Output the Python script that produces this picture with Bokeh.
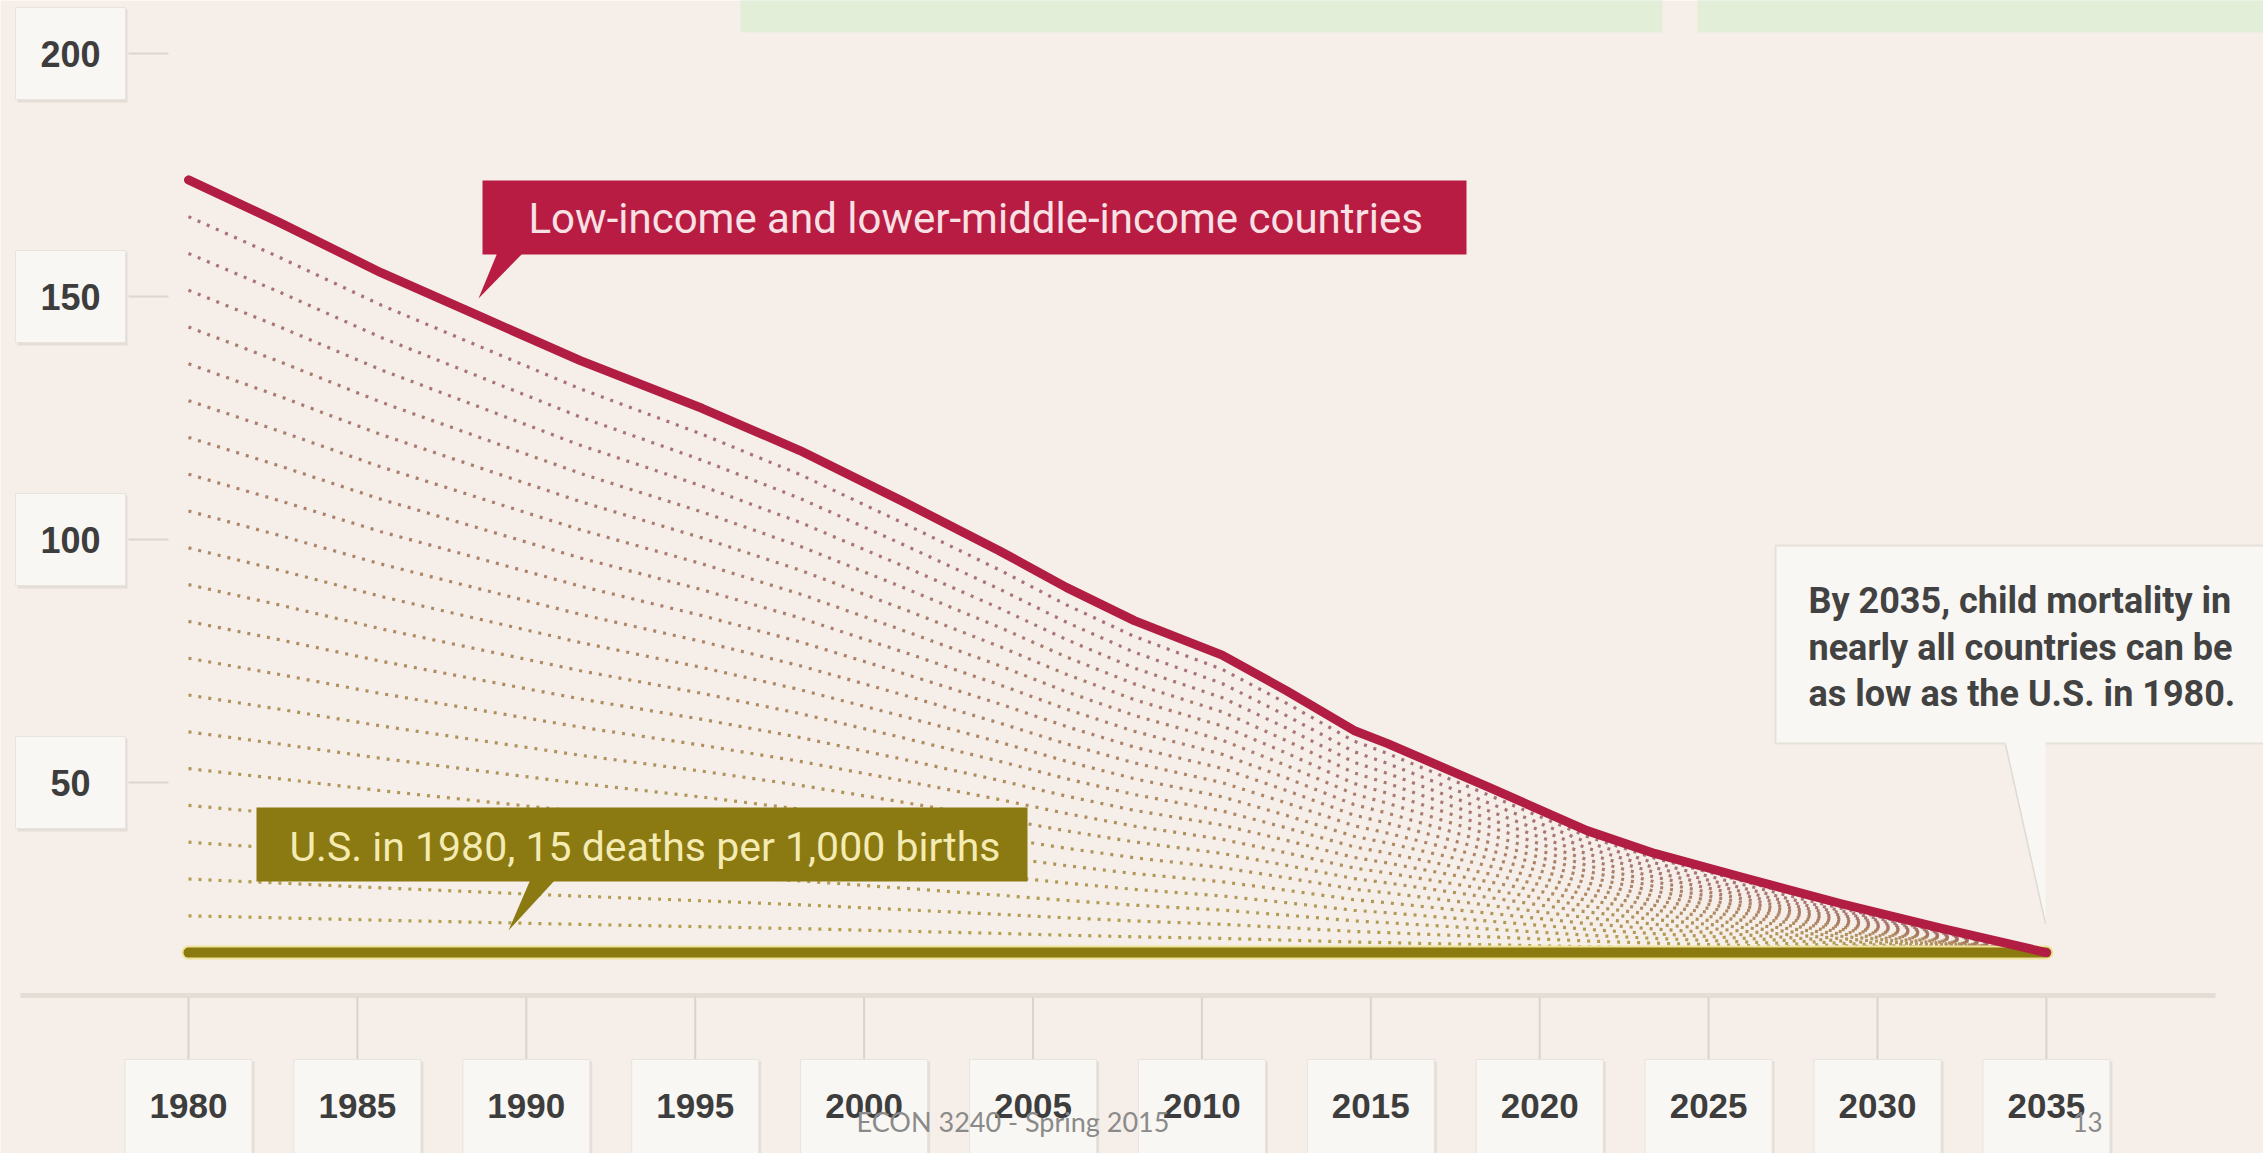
import numpy as np
from bokeh.plotting import figure
from bokeh.models import Range1d
from bokeh.core.properties import value
from bokeh.embed import file_html
from bokeh.resources import INLINE

# ---------------- data ----------------
low_years = [1980, 1982.7, 1985.7, 1988.7, 1991.6, 1995.2, 1998.1, 2001.1, 2004.0,
             2006.0, 2008.0, 2010.6, 2012.5, 2014.5, 2015.5, 2018.5, 2021.4,
             2023.4, 2026.0, 2028.9, 2031.9, 2035]
low_deaths = [174, 165.2, 154.9, 145.7, 136.8, 127.0, 118.3, 108.0, 97.7,
              90.1, 83.3, 76.2, 68.9, 60.7, 58.0, 49.0, 40.1,
              35.4, 30.5, 25.1, 20.0, 15]
us_years = [1980, 2035]
us_deaths = [15, 15]
us_level = 15
y_ticks = [50, 100, 150, 200]
x_ticks = [1980, 1985, 1990, 1995, 2000, 2005, 2010, 2015, 2020, 2025, 2030, 2035]
low_label = "Low-income and lower-middle-income countries"
us_label = "U.S. in 1980, 15 deaths per 1,000 births"
note_lines = ["By 2035, child mortality in", "nearly all countries can be", "as low as the U.S. in 1980."]
footer = "ECON 3240 - Spring 2015"
page_no = "13"

# ---------------- layout helpers (pixel -> data) ----------------
W, H = 2263, 1153
PX_YR, X0PX = 33.78, 188.0
PX_UNIT, Y0PX = 4.86, 1025.0
def X(px):
    return 1980 + (px - X0PX) / PX_YR
def Y(py):
    return (Y0PX - py) / PX_UNIT
def DX(px):
    return px / PX_YR
def DY(py):
    return py / PX_UNIT

BG = "#f6efe9"
p = figure(width=W, height=H, output_backend="svg", toolbar_location=None,
           x_range=Range1d(X(0), X(W)), y_range=Range1d(Y(H), Y(0)),
           x_axis_location=None, y_axis_location=None,
           min_border=0, min_border_left=0, min_border_right=0,
           min_border_top=0, min_border_bottom=0)
p.background_fill_color = BG
p.border_fill_color = BG
p.outline_line_color = None
p.grid.visible = False

# green boxes at top (slide decoration)
p.quad(left=[X(740), X(1697)], right=[X(1662), X(2270)], top=[Y(-5)] * 2, bottom=[Y(32)] * 2,
       fill_color="#e2eed8", line_color=None)

# y tick boxes + ticks + labels
for v in y_ticks:
    p.quad(left=X(17), right=X(127), top=v + DY(44), bottom=v - DY(49), fill_color="#e4ded7", line_color=None)
    p.quad(left=X(15), right=X(125), top=v + DY(46), bottom=v - DY(46), fill_color="#f9f7f3",
           line_color="#e8e3dc", line_width=1)
p.segment(x0=[X(128)] * len(y_ticks), x1=[X(168)] * len(y_ticks), y0=y_ticks, y1=y_ticks,
          line_color="#dcd6cf", line_width=2)
p.text(x=[X(70)] * len(y_ticks), y=y_ticks, text=[str(v) for v in y_ticks],
       text_font=value("Liberation Sans"), text_font_style="bold", text_font_size="36px",
       text_color="#3d3d3d", text_align="center", text_baseline="middle")

# x axis line, ticks, boxes, labels
p.segment(x0=[X(20)], x1=[X(2215)], y0=[Y(995)], y1=[Y(995)], line_color="#e3ddd6", line_width=5)
p.segment(x0=x_ticks, x1=x_ticks, y0=[Y(997)] * len(x_ticks), y1=[Y(1059)] * len(x_ticks),
          line_color="#d9d3cc", line_width=2)
xt = np.array(x_ticks, dtype=float)
p.quad(left=xt - DX(61), right=xt + DX(66), top=[Y(1061)] * len(x_ticks), bottom=[Y(1160)] * len(x_ticks),
       fill_color="#e4ded7", line_color=None)
p.quad(left=xt - DX(63.5), right=xt + DX(63.5), top=[Y(1059)] * len(x_ticks), bottom=[Y(1160)] * len(x_ticks),
       fill_color="#f9f7f3", line_color="#e8e3dc", line_width=1)
p.text(x=x_ticks, y=[Y(1105)] * len(x_ticks), text=[str(v) for v in x_ticks],
       text_font=value("Liberation Sans"), text_font_style="bold", text_font_size="35px",
       text_color="#3d3d3d", text_align="center", text_baseline="middle")

# fan of dotted lines between the two series
low = np.array(low_deaths, dtype=float)
N = 20
def mix(c1, c2, t):
    a = [int(c1[i:i + 2], 16) for i in (1, 3, 5)]
    b = [int(c2[i:i + 2], 16) for i in (1, 3, 5)]
    return "#%02x%02x%02x" % tuple(int(round(a[j] * t + b[j] * (1 - t))) for j in range(3))
xs, ys, cols = [], [], []
for k in range(1, N + 1):
    t = k / (N + 1)
    xs.append(low_years)
    ys.append(list(us_level + t * (low - us_level)))
    cols.append(mix("#a0606e", "#ad9a3a", t))
p.multi_line(xs=xs, ys=ys, line_color=cols, line_width=3.2, line_dash="3 7", line_alpha=0.9)

# U.S. 1980 level
p.line(us_years, us_deaths, line_color="#efe39a", line_width=14, line_cap="round")
p.line(us_years, us_deaths, line_color="#8b7a10", line_width=10, line_cap="round")

# low-income series
p.line(low_years, low_deaths, line_color="#b21d43", line_width=9, line_cap="round", line_join="round")

# red callout
p.quad(left=X(482), right=X(1466), top=Y(180), bottom=Y(254), fill_color="#b81c42", line_color=None)
p.patch(x=[X(497), X(523), X(478)], y=[Y(252), Y(252), Y(298)], fill_color="#b81c42", line_color=None)
p.text(x=[X(528)], y=[Y(218)], text=[low_label], text_font=value("Roboto"),
       text_font_size="42px", text_color="#f8e1e5", text_align="left", text_baseline="middle")

# olive callout
p.quad(left=X(256), right=X(1027), top=Y(807), bottom=Y(881), fill_color="#8b7912", line_color=None)
p.patch(x=[X(530), X(555), X(508)], y=[Y(879), Y(879), Y(930)], fill_color="#8b7912", line_color=None)
p.text(x=[X(289)], y=[Y(846)], text=[us_label], text_font=value("Roboto"),
       text_font_size="41px", text_color="#f4ebb3", text_align="left", text_baseline="middle")

# white note callout
p.quad(left=X(1775), right=X(2275), top=Y(545), bottom=Y(743), fill_color="#f9f7f3",
       line_color="#e6e1da", line_width=2)
p.patch(x=[X(2005), X(2045), X(2045)], y=[Y(741), Y(741), Y(923)], fill_color="#f9f7f3",
        line_color=None)
p.segment(x0=[X(2005)], x1=[X(2045)], y0=[Y(744)], y1=[Y(923)], line_color="#dedad4", line_width=1.5)
p.text(x=[X(1808)] * 3, y=[Y(600), Y(647), Y(693)], text=note_lines,
       text_font=value("Roboto"), text_font_style="bold", text_font_size="36px",
       text_color="#424242", text_align="left", text_baseline="middle")

# slide footer
p.text(x=[X(856)], y=[Y(1121)], text=[footer], text_font=value("Lato"), text_font_size="27px",
       text_color="#8a8a8a", text_align="left", text_baseline="middle")
p.text(x=[X(2087)], y=[Y(1121)], text=[page_no], text_font=value("Lato"), text_font_size="26px",
       text_color="#8a8a8a", text_align="center", text_baseline="middle")

open("out.html", "w").write(file_html(p, INLINE))
